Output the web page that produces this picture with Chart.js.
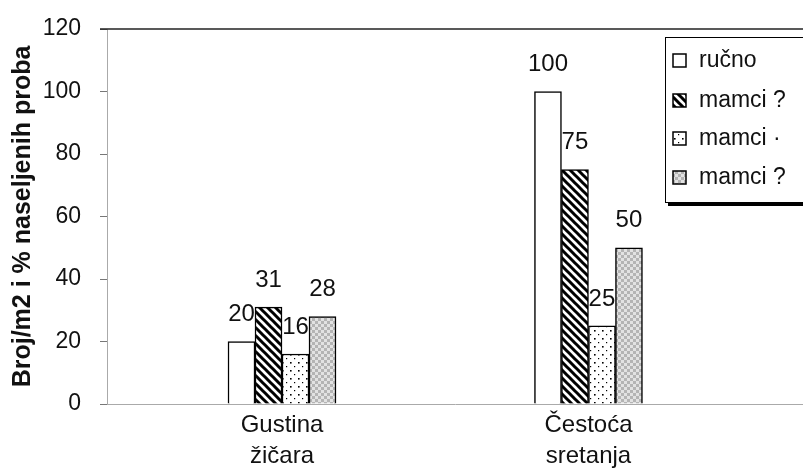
<!DOCTYPE html>
<html>
<head>
<meta charset="utf-8">
<script src="https://cdn.jsdelivr.net/npm/chart.js@4.4.1/dist/chart.umd.min.js"></script>
<style>
  html, body { margin: 0; padding: 0; background: #fff; }
  #wrap { width: 803px; height: 469px; }
</style>
</head>
<body>
<div id="wrap"><canvas id="graf"></canvas></div>
<script>
// --- podaci ---
const KATEGORIJE = [['Gustina', 'žičara'], ['Čestoća', 'sretanja']];
const SERIJE = ['ručno', 'mamci ?', 'mamci ·', 'mamci ?'];
const RUCNO = [20, 100];
const MAMCI_1 = [31, 75];
const MAMCI_2 = [16, 25];
const MAMCI_3 = [28, 50];
const Y_TICKS = [0, 20, 40, 60, 80, 100, 120];

const FONT = "'Liberation Sans', Arial, sans-serif";

// --- uzorci za stupce ---
function makeTile(size, draw) {
    const c = document.createElement('canvas');
    c.width = size; c.height = size;
    const g = c.getContext('2d');
    draw(g, size);
    return document.createElement('canvas').getContext('2d').createPattern(c, 'repeat');
}

const PUNO = '#ffffff';
const KOSO = makeTile(8, (g, s) => {
    g.fillStyle = '#fff'; g.fillRect(0, 0, s, s);
    g.strokeStyle = '#000'; g.lineWidth = 3;
    g.beginPath();
    g.moveTo(-2, -2); g.lineTo(s + 2, s + 2);
    g.moveTo(-2, s - 2); g.lineTo(2, s + 2);
    g.moveTo(s - 2, -2); g.lineTo(s + 2, 2);
    g.stroke();
});
const TOCKE = makeTile(8, (g, s) => {
    g.fillStyle = '#fff'; g.fillRect(0, 0, s, s);
    g.fillStyle = '#000';
    g.fillRect(2, 2, 1.6, 1.6);
    g.fillRect(6, 6, 1.2, 1.2);
});
const SAH = makeTile(6, (g, s) => {
    g.fillStyle = '#e2e2e2'; g.fillRect(0, 0, s, s);
    g.fillStyle = '#b4b4b4';
    g.fillRect(0, 0, 3, 3);
    g.fillRect(3, 3, 3, 3);
});
const UZORCI = [PUNO, KOSO, TOCKE, SAH];

// --- oznake vrijednosti iznad stupaca ---
const oznakePlugin = {
    id: 'oznake',
    afterDatasetsDraw(chart) {
        const ctx = chart.ctx;
        ctx.save();
        ctx.font = '24px ' + FONT;
        ctx.fillStyle = '#111';
        ctx.textAlign = 'center';
        ctx.textBaseline = 'bottom';
        chart.data.datasets.forEach((ds, i) => {
            chart.getDatasetMeta(i).data.forEach((bar, j) => {
                ctx.fillText(String(ds.data[j].y), bar.x, bar.y - 15);
            });
        });
        ctx.restore();
    }
};

// --- okvir: gornja crta i legenda ---
const okvirPlugin = {
    id: 'okvir',
    afterDraw(chart) {
        const ctx = chart.ctx;
        const a = chart.chartArea;
        ctx.save();
        // gornja crta
        ctx.strokeStyle = '#222';
        ctx.lineWidth = 1.5;
        ctx.beginPath();
        ctx.moveTo(100, a.top); ctx.lineTo(a.right, a.top);
        ctx.stroke();

        // legenda
        const lx = 665, ly = 37, lw = 160, lh = 165;
        ctx.fillStyle = '#fff';
        ctx.fillRect(lx, ly, lw, lh);
        ctx.strokeStyle = '#000';
        ctx.lineWidth = 1;
        ctx.strokeRect(lx + 0.5, ly + 0.5, lw, lh);
        ctx.fillStyle = '#000';
        ctx.fillRect(lx + 3, ly + lh, lw, 4);

        const yy = [60, 100, 138, 177];
        ctx.font = '23px ' + FONT;
        ctx.textAlign = 'left';
        ctx.textBaseline = 'middle';
        SERIJE.forEach((s, i) => {
            ctx.fillStyle = UZORCI[i];
            ctx.fillRect(673, yy[i] - 6, 13, 13);
            ctx.strokeStyle = '#000';
            ctx.lineWidth = 1.5;
            ctx.strokeRect(673, yy[i] - 6, 13, 13);
            ctx.fillStyle = '#111';
            ctx.fillText(s, 699, yy[i] + 1);
        });
        ctx.restore();
    }
};

const nizovi = [RUCNO, MAMCI_1, MAMCI_2, MAMCI_3];

new Chart(document.getElementById('graf'), {
    type: 'bar',
    data: {
        datasets: nizovi.map((arr, i) => ({
            label: SERIJE[i],
            data: arr.map((v, k) => ({ x: k, y: v })),
            backgroundColor: UZORCI[i],
            borderColor: '#000',
            borderWidth: 1.5,
            barThickness: 27
        }))
    },
    options: {
        responsive: true,
        maintainAspectRatio: false,
        animation: false,
        layout: { padding: { top: 29, right: 0, left: 0, bottom: 0 } },
        plugins: {
            legend: { display: false },
            tooltip: { enabled: false }
        },
        scales: {
            x: {
                type: 'linear',
                offset: false,
                min: -0.571,
                max: 1.70,
                afterBuildTicks: (s) => { s.ticks = [{ value: 0 }, { value: 1 }]; },
                afterFit: (s) => { s.height = 65; },
                grid: { display: false, drawTicks: false },
                border: { color: '#aaa', width: 1 },
                ticks: {
                    callback: (v) => KATEGORIJE[v] || '',
                    font: { family: FONT, size: 24, lineHeight: 1.28 },
                    color: '#111',
                    padding: 6,
                    maxRotation: 0
                }
            },
            y: {
                min: 0,
                max: 120,
                afterBuildTicks: (s) => { s.ticks = Y_TICKS.map(v => ({ value: v })); },
                afterFit: (s) => {
                    s.width = 107;
                    // padding oznaka ne smije gurati vrh grafa
                    s.paddingTop = 14;
                    s.paddingBottom = 14;
                },
                grid: {
                    color: 'rgba(0,0,0,0)',
                    tickColor: '#777',
                    tickLength: 7,
                    drawOnChartArea: false
                },
                border: { color: '#aaa', width: 1 },
                ticks: {
                    font: { family: FONT, size: 23 },
                    color: '#111',
                    padding: 19
                },
                title: {
                    display: true,
                    text: 'Broj/m2 i % naseljenih proba',
                    font: { family: FONT, size: 25, weight: 'bold' },
                    color: '#111',
                    padding: { top: 8, bottom: 0 }
                }
            }
        }
    },
    plugins: [oznakePlugin, okvirPlugin]
});
</script>
</body>
</html>
